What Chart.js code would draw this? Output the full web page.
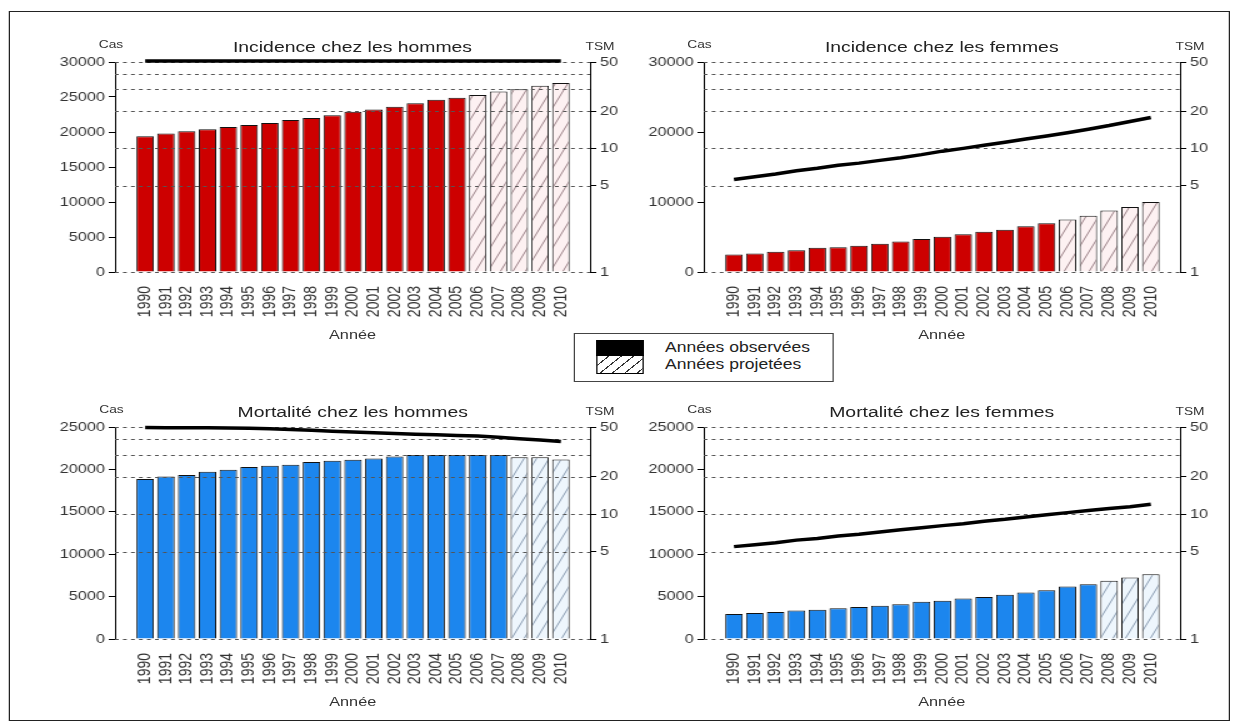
<!DOCTYPE html>
<html>
<head>
<meta charset="utf-8">
<script src="https://cdn.jsdelivr.net/npm/chart.js@4.4.1/dist/chart.umd.min.js"></script>
<style>
html, body { margin: 0; padding: 0; background: #fff; }
body { width: 1235px; height: 722px; overflow: hidden; position: relative; font-family: "Liberation Sans", Arial, sans-serif; color: #333; }
#page { position: absolute; left: 0; top: 0; width: 988px; height: 722px; transform: scaleX(1.25); transform-origin: 0 0; }
#frame { position: absolute; left: 7px; top: 11px; width: 975px; height: 708px; border: 1px solid #222; }
.lbl { position: absolute; white-space: nowrap; transform: translate(-50%, -50%); line-height: 1; }
canvas { position: absolute; }
#legend { position: absolute; left: 459px; top: 333px; width: 206px; height: 47px; border: 1px solid #444; background: #fff; }
#legend .sw1 { position: absolute; left: 17px; top: 6px; width: 36px; height: 14px; background: #000; border: 1px solid #000; }
#legend .sw2 { position: absolute; left: 17px; top: 21px; width: 36px; height: 17px; border: 1px solid #000;
  background: repeating-linear-gradient(135deg, #fff 0px, #fff 6px, #333 6px, #333 7px); }
#legend .txt { position: absolute; left: 72px; top: 5px; font-size: 14px; line-height: 17px; color: #222; }
</style>
</head>
<body>
<div id="page">
  <div id="frame"></div>
  <div id="legend"><div class="sw1"></div><div class="sw2"></div><div class="txt">Années observées<br>Années projetées</div></div>
</div>
<script>
// données
const years = [1990, 1991, 1992, 1993, 1994, 1995, 1996, 1997, 1998, 1999, 2000,
               2001, 2002, 2003, 2004, 2005, 2006, 2007, 2008, 2009, 2010];

const incHommesCas = [19400, 19800, 20100, 20400, 20700, 21000, 21300, 21700, 22000, 22400, 22900,
                      23200, 23600, 24100, 24600, 24900, 25300, 25800, 26100, 26600, 27000];
const incHommesTsm = [51, 51, 51, 51, 51, 51, 51, 51, 51, 51, 51,
                      51, 51, 51, 51, 51, 51, 51, 51, 51, 51];

const incFemmesCas = [2500, 2650, 2900, 3100, 3450, 3550, 3750, 4050, 4350, 4700, 5050,
                      5400, 5750, 6050, 6550, 6950, 7500, 8050, 8800, 9300, 10000];
const incFemmesTsm = [5.6, 5.9, 6.2, 6.6, 6.9, 7.3, 7.6, 8.0, 8.4, 8.9, 9.5,
                      10.0, 10.6, 11.2, 11.9, 12.6, 13.4, 14.3, 15.3, 16.5, 17.8];

const mortHommesCas = [18870, 19170, 19340, 19730, 19960, 20280, 20440, 20550, 20870, 21030, 21140,
                       21300, 21530, 21700, 21700, 21700, 21700, 21700, 21420, 21420, 21180];
const mortHommesTsm = [49.5, 49.4, 49.3, 49.2, 49.0, 48.8, 48.4, 47.8, 47.0, 46.2, 45.6,
                       45.0, 44.4, 43.8, 43.3, 42.8, 42.3, 41.4, 40.3, 39.3, 38.3];

const mortFemmesCas = [2950, 3060, 3180, 3370, 3450, 3640, 3760, 3910, 4110, 4380, 4500,
                       4770, 4960, 5230, 5470, 5740, 6200, 6470, 6860, 7250, 7640];
const mortFemmesTsm = [5.5, 5.7, 5.9, 6.2, 6.4, 6.7, 6.9, 7.2, 7.5, 7.8, 8.1,
                       8.4, 8.8, 9.1, 9.5, 9.9, 10.3, 10.7, 11.1, 11.5, 12.0];

const tsmTicks = [1, 5, 10, 20, 50];
const tsmGrid = [1, 5, 10, 20, 30, 40, 50];

const S = 1.25; // the picture is stretched horizontally
const page = document.getElementById('page');

function hatch(bg, line) {
  const c = document.createElement('canvas');
  c.width = 10; c.height = 20;
  const g = c.getContext('2d');
  g.fillStyle = bg; g.fillRect(0, 0, 10, 20);
  g.strokeStyle = line; g.lineWidth = 1;
  g.beginPath();
  g.moveTo(0, 20); g.lineTo(10, 0);
  g.moveTo(-1, 2); g.lineTo(1, -2);
  g.moveTo(9, 22); g.lineTo(11, 18);
  g.stroke();
  return g.createPattern(c, 'repeat');
}

function txt(s, x, y, size, color) {
  const d = document.createElement('div');
  d.className = 'lbl';
  d.textContent = s;
  d.style.left = (x / S) + 'px';
  d.style.top = y + 'px';
  d.style.fontSize = size + 'px';
  if (color) d.style.color = color;
  page.appendChild(d);
}

// dashed TSM lines go over the bars but under the black line
const gridPlugin = {
  id: 'tsmGrid',
  afterDatasetDraw(chart, args) {
    if (args.meta.type !== 'bar') return;
    const { ctx, chartArea: a, scales: { y1 } } = chart;
    ctx.save();
    ctx.strokeStyle = '#555';
    ctx.lineWidth = 1;
    ctx.setLineDash([3, 3.4]);
    tsmGrid.forEach(v => {
      const y = Math.round(y1.getPixelForValue(v)) + 0.5;
      ctx.beginPath(); ctx.moveTo(a.left, y); ctx.lineTo(a.right, y); ctx.stroke();
    });
    ctx.restore();
  }
};

const panels = [
  { title: 'Incidence chez les hommes', cas: incHommesCas, tsm: incHommesTsm, lastObs: 2005, casMax: 30000, casStep: 5000,
    color: '#cd0000', hbg: '#fdf1f2', hline: '#9c8288', L: 115, R: 590, T: 62, B: 272 },
  { title: 'Incidence chez les femmes', cas: incFemmesCas, tsm: incFemmesTsm, lastObs: 2005, casMax: 30000, casStep: 10000,
    color: '#cd0000', hbg: '#fdf1f2', hline: '#9c8288', L: 703.5, R: 1180, T: 62, B: 272 },
  { title: 'Mortalité chez les hommes', cas: mortHommesCas, tsm: mortHommesTsm, lastObs: 2007, casMax: 25000, casStep: 5000,
    color: '#1c86ee', hbg: '#eef6fd', hline: '#8a9cb2', L: 115.5, R: 590, T: 427.3, B: 639.3 },
  { title: 'Mortalité chez les femmes', cas: mortFemmesCas, tsm: mortFemmesTsm, lastObs: 2007, casMax: 25000, casStep: 5000,
    color: '#1c86ee', hbg: '#eef6fd', hline: '#8a9cb2', L: 703.5, R: 1180, T: 427.3, B: 639.3 }
];

panels.forEach(p => {
  const L = p.L / S, R = p.R / S;
  const padTop = 14, yW = 70, y1W = 45, xH = 70;
  const w = Math.round(R - L + yW + y1W), h = Math.round(p.B - p.T + padTop + xH);
  const cv = document.createElement('canvas');
  cv.width = w; cv.height = h;
  cv.style.width = w + 'px'; cv.style.height = h + 'px';
  cv.style.left = (L - yW) + 'px';
  cv.style.top = (p.T - padTop) + 'px';
  page.appendChild(cv);
  const pat = hatch(p.hbg, p.hline);

  new Chart(cv, {
    type: 'bar',
    data: {
      datasets: [
        { type: 'line', yAxisID: 'y1', data: years.map((yr, i) => ({ x: yr, y: p.tsm[i] })),
          borderColor: '#000', borderWidth: 3.5, pointRadius: 0, tension: 0, clip: false, order: 1 },
        { type: 'bar', yAxisID: 'y', data: years.map((yr, i) => ({ x: yr, y: p.cas[i] })),
          backgroundColor: years.map(yr => yr <= p.lastObs ? p.color : pat),
          borderColor: '#111', borderWidth: 1, barPercentage: 0.84, categoryPercentage: 1, order: 2 }
      ]
    },
    options: {
      responsive: false,
      animation: false,
      events: [],
      layout: { padding: { top: padTop, left: 0, right: 0, bottom: 0 } },
      plugins: { legend: { display: false }, tooltip: { enabled: false } },
      scales: {
        x: {
          type: 'linear', min: 1988.55, max: 2011.4, offset: false,
          grid: { display: false }, border: { display: false },
          afterBuildTicks: s => { s.ticks = years.map(v => ({ value: v })); },
          afterFit: s => { s.height = xH; },
          ticks: { autoSkip: false, maxRotation: 90, minRotation: 90, padding: 6, color: '#333',
                   font: { size: 14, family: 'Liberation Sans' }, callback: v => String(v) }
        },
        y: {
          position: 'left', min: 0, max: p.casMax,
          afterFit: s => { s.width = yW; },
          grid: { drawOnChartArea: false, color: '#000', tickLength: 5 },
          border: { display: true, color: '#000', width: 1 },
          ticks: { stepSize: p.casStep, color: '#333', padding: 3,
                   font: { size: 13, family: 'Liberation Sans' }, callback: v => String(v) }
        },
        y1: {
          type: 'logarithmic', position: 'right', min: 1, max: 50,
          afterBuildTicks: s => { s.ticks = tsmTicks.map(v => ({ value: v })); },
          afterFit: s => { s.width = y1W; },
          grid: { drawOnChartArea: false, color: '#000', tickLength: 5 },
          border: { display: true, color: '#000', width: 1 },
          ticks: { color: '#333', padding: 3,
                   font: { size: 13, family: 'Liberation Sans' }, callback: v => String(v) }
        }
      }
    },
    plugins: [gridPlugin]
  });

  txt(p.title, (p.L + p.R) / 2, p.T - 15, 15.5, '#222');
  txt('Cas', p.L - 4, p.T - 18, 11);
  txt('TSM', p.R + 10, p.T - 16, 11);
  txt('Année', (p.L + p.R) / 2, p.B + 62, 13);
});
</script>
</body>
</html>
